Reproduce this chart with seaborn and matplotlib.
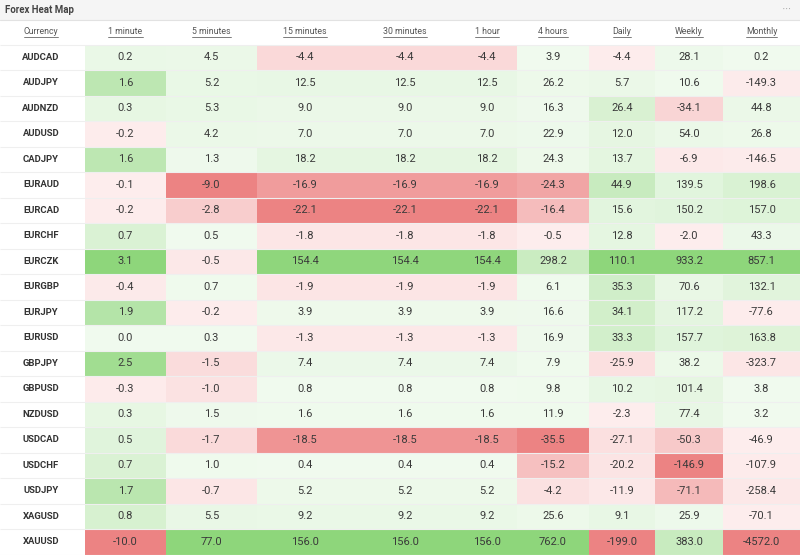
import numpy as np
import pandas as pd
import seaborn as sns
import matplotlib
matplotlib.use("Agg")
import matplotlib.pyplot as plt
from matplotlib.colors import ListedColormap, to_rgb
from matplotlib.lines import Line2D
from matplotlib.patches import Rectangle

# ---------------- data ----------------
currencies = ["AUDCAD", "AUDJPY", "AUDNZD", "AUDUSD", "CADJPY", "EURAUD", "EURCAD",
              "EURCHF", "EURCZK", "EURGBP", "EURJPY", "EURUSD", "GBPJPY", "GBPUSD",
              "NZDUSD", "USDCAD", "USDCHF", "USDJPY", "XAGUSD", "XAUUSD"]
timeframes = ["1 minute", "5 minutes", "15 minutes", "30 minutes", "1 hour",
              "4 hours", "Daily", "Weekly", "Monthly"]

m1 = [0.2, 1.6, 0.3, -0.2, 1.6, -0.1, -0.2, 0.7, 3.1, -0.4, 1.9, 0.0, 2.5, -0.3, 0.3, 0.5, 0.7, 1.7, 0.8, -10.0]
m5 = [4.5, 5.2, 5.3, 4.2, 1.3, -9.0, -2.8, 0.5, -0.5, 0.7, -0.2, 0.3, -1.5, -1.0, 1.5, -1.7, 1.0, -0.7, 5.5, 77.0]
m15 = [-4.4, 12.5, 9.0, 7.0, 18.2, -16.9, -22.1, -1.8, 154.4, -1.9, 3.9, -1.3, 7.4, 0.8, 1.6, -18.5, 0.4, 5.2, 9.2, 156.0]
m30 = [-4.4, 12.5, 9.0, 7.0, 18.2, -16.9, -22.1, -1.8, 154.4, -1.9, 3.9, -1.3, 7.4, 0.8, 1.6, -18.5, 0.4, 5.2, 9.2, 156.0]
h1 = [-4.4, 12.5, 9.0, 7.0, 18.2, -16.9, -22.1, -1.8, 154.4, -1.9, 3.9, -1.3, 7.4, 0.8, 1.6, -18.5, 0.4, 5.2, 9.2, 156.0]
h4 = [3.9, 26.2, 16.3, 22.9, 24.3, -24.3, -16.4, -0.5, 298.2, 6.1, 16.6, 16.9, 7.9, 9.8, 11.9, -35.5, -15.2, -4.2, 25.6, 762.0]
daily = [-4.4, 5.7, 26.4, 12.0, 13.7, 44.9, 15.6, 12.8, 110.1, 35.3, 34.1, 33.3, -25.9, 10.2, -2.3, -27.1, -20.2, -11.9, 9.1, -199.0]
weekly = [28.1, 10.6, -34.1, 54.0, -6.9, 139.5, 150.2, -2.0, 933.2, 70.6, 117.2, 157.7, 38.2, 101.4, 77.4, -50.3, -146.9, -71.1, 25.9, 383.0]
monthly = [0.2, -149.3, 44.8, 26.8, -146.5, 198.6, 157.0, 43.3, 857.1, 132.1, -77.6, 163.8, -323.7, 3.8, 3.2, -46.9, -107.9, -258.4, -70.1, -4572.0]

df = pd.DataFrame(dict(zip(timeframes, [m1, m5, m15, m30, h1, h4, daily, weekly, monthly])),
                  index=currencies)

# ---------------- layout / style ----------------
W, H = 800, 555
col_px = [81, 91, 96, 104, 60, 72, 66, 68, 77]   # on-screen column widths
left_px = 85
top_px = 44.5
row_px = 25.5
title_h = 20

sns.set_style("white")
plt.rcParams["font.family"] = ["Roboto", "DejaVu Sans"]

# per-column scaling: positive by column max, negative by column min
pos = df.clip(lower=0) / df.max()
neg = df.clip(upper=0) / (-df.min())
score = 0.5 + 0.5 * (pos + neg)

def ramp(c0, c1, n=256):
    a, b = np.array(to_rgb(c0)), np.array(to_rgb(c1))
    t = np.linspace(0, 1, n)[:, None]
    return a + (b - a) * t

colors = np.vstack([ramp("#ec8383", "#fdeeee"), ramp("#f0faee", "#8ed67b")])
cmap = ListedColormap(colors)

fig = plt.figure(figsize=(W / 100, H / 100), dpi=100)
fig.patch.set_facecolor("white")
ax = fig.add_axes([left_px / W, 1 - (top_px + row_px * len(currencies)) / H,
                   sum(col_px) / W, row_px * len(currencies) / H])

expanded = np.repeat(score.values, col_px, axis=1)
sns.heatmap(expanded, ax=ax, cmap=cmap, vmin=0, vmax=1, cbar=False,
            xticklabels=False, yticklabels=False)
ax.set_xlabel("")
ax.set_ylabel("")
for s in ax.spines.values():
    s.set_visible(False)

edges = np.concatenate([[0], np.cumsum(col_px)])
centers = (edges[:-1] + edges[1:]) / 2

# cell values
for j, tf in enumerate(timeframes):
    for i, cur in enumerate(currencies):
        ax.text(centers[j], i + 0.5, f"{df.loc[cur, tf]:.1f}", ha="center", va="center",
                fontsize=8, color="#3a3a3a")

# currency labels (x data unit == 1 px)
for i, cur in enumerate(currencies):
    ax.text(-left_px / 2 - 1.5, i + 0.5, cur, ha="center", va="center", fontsize=6.8,
            fontweight="bold", color="#333333", clip_on=False)

# header row
header_y = -(top_px - 32) / row_px
headers = [ax.text(-left_px / 2 - 1.5, header_y, "Currency", ha="center", va="center",
                   fontsize=6.3, color="#555555", clip_on=False)]
for j, tf in enumerate(timeframes):
    headers.append(ax.text(centers[j], header_y, tf, ha="center", va="center",
                           fontsize=6.3, color="#555555", clip_on=False))

# row separators
for i in range(len(currencies) + 1):
    ax.hlines(i, -left_px, sum(col_px), color="#efefef", lw=0.8, clip_on=False, zorder=3)

# title bar
fig.patches.append(Rectangle((0, 1 - title_h / H), 1, title_h / H, transform=fig.transFigure,
                             facecolor="#f5f5f5", edgecolor="none", zorder=0))
fig.add_artist(Line2D([0, 1], [1 - title_h / H] * 2, transform=fig.transFigure,
                      color="#e2e2e2", lw=0.8))
fig.text(5 / W, 1 - 10 / H, "Forex Heat Map", ha="left", va="center", fontsize=6.9,
         fontweight="bold", color="#444444")
fig.text(787 / W, 1 - 9.5 / H, "• • •", ha="center", va="center", fontsize=3.5,
         color="#9a9a9a")

# underline headers
fig.canvas.draw()
renderer = fig.canvas.get_renderer()
for t in headers:
    bb = t.get_window_extent(renderer)
    y = (bb.y0 - 0.5) / H
    fig.add_artist(Line2D([bb.x0 / W, bb.x1 / W], [y, y], transform=fig.transFigure,
                          color="#666666", lw=0.6))

fig.savefig("out.png", dpi=100)
